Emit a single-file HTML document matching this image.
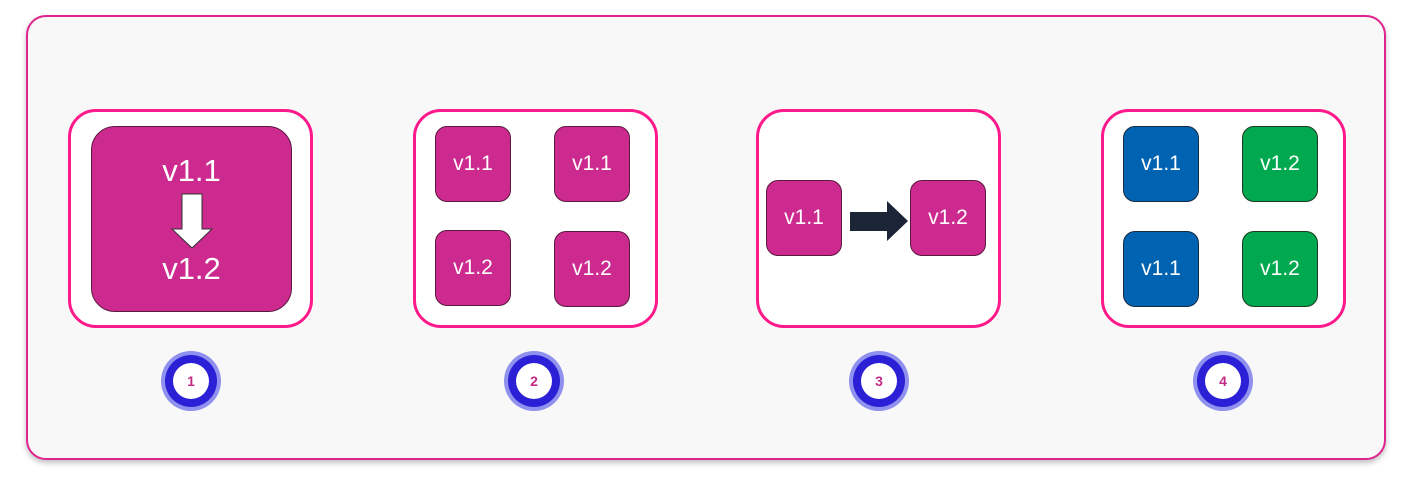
<!DOCTYPE html>
<html><head><meta charset="utf-8"><style>
body{margin:0;width:1412px;height:489px;background:#fff;font-family:"Liberation Sans",sans-serif;position:relative;overflow:hidden}
.card{position:absolute;left:26px;top:15px;width:1356px;height:441px;border:2px solid #e0248f;border-radius:20px;background:#f8f8f8;box-shadow:0 3px 6px rgba(0,0,0,.25)}
.panel{position:absolute;top:109px;width:239px;height:213px;border:3px solid #ff1a8c;border-radius:28px;background:#fff}
.box{position:absolute;background:#cc2a8e;border:1px solid #5a1a40;border-radius:12px;color:#fff;display:flex;align-items:center;justify-content:center;font-size:21px}
.badge{position:absolute;top:351px;width:60px;height:60px;border-radius:50%;background:#9090ee;}
.badge .r{position:absolute;left:4px;top:4px;width:52px;height:52px;border-radius:50%;background:#2b20d6}
.badge .w{position:absolute;left:12px;top:12px;width:36px;height:36px;border-radius:50%;background:#fff;color:#c42a85;font-weight:bold;font-size:14px;display:flex;align-items:center;justify-content:center}
</style></head><body>
<div class="card"></div>

<div class="panel" style="left:68px">
 <div class="box" style="left:20px;top:14px;width:199px;height:184px;border-radius:24px;display:block">
  <div style="position:absolute;left:0;right:0;top:26px;text-align:center;font-size:31px">v1.1</div>
  <svg style="position:absolute;left:78px;top:66px" width="44" height="56"><polygon points="12,1 32,1 32,36 42,36 22,55 2,36 12,36" fill="#fff" stroke="#333" stroke-width="1"/></svg>
  <div style="position:absolute;left:0;right:0;top:124px;text-align:center;font-size:31px">v1.2</div>
 </div>
</div>

<div class="panel" style="left:413px">
 <div class="box" style="left:19px;top:14px;width:74px;height:74px">v1.1</div>
 <div class="box" style="left:138px;top:14px;width:74px;height:74px">v1.1</div>
 <div class="box" style="left:19px;top:118px;width:74px;height:74px">v1.2</div>
 <div class="box" style="left:138px;top:119px;width:74px;height:74px">v1.2</div>
</div>

<div class="panel" style="left:756px">
 <div class="box" style="left:7px;top:68px;width:74px;height:74px">v1.1</div>
 <svg style="position:absolute;left:91px;top:88px" width="62" height="44"><polygon points="0,12 37,12 37,1 58,21 37,41 37,31 0,31" fill="#1b2536"/></svg>
 <div class="box" style="left:151px;top:68px;width:74px;height:74px">v1.2</div>
</div>

<div class="panel" style="left:1101px">
 <div class="box" style="left:19px;top:14px;width:74px;height:74px;background:#0063b1;border-color:#1a2a40">v1.1</div>
 <div class="box" style="left:138px;top:14px;width:74px;height:74px;background:#00a94f;border-color:#1a3a20">v1.2</div>
 <div class="box" style="left:19px;top:119px;width:74px;height:74px;background:#0063b1;border-color:#1a2a40">v1.1</div>
 <div class="box" style="left:138px;top:119px;width:74px;height:74px;background:#00a94f;border-color:#1a3a20">v1.2</div>
</div>

<div class="badge" style="left:161px"><div class="r"></div><div class="w">1</div></div>
<div class="badge" style="left:504px"><div class="r"></div><div class="w">2</div></div>
<div class="badge" style="left:849px"><div class="r"></div><div class="w">3</div></div>
<div class="badge" style="left:1193px"><div class="r"></div><div class="w">4</div></div>
</body></html>
